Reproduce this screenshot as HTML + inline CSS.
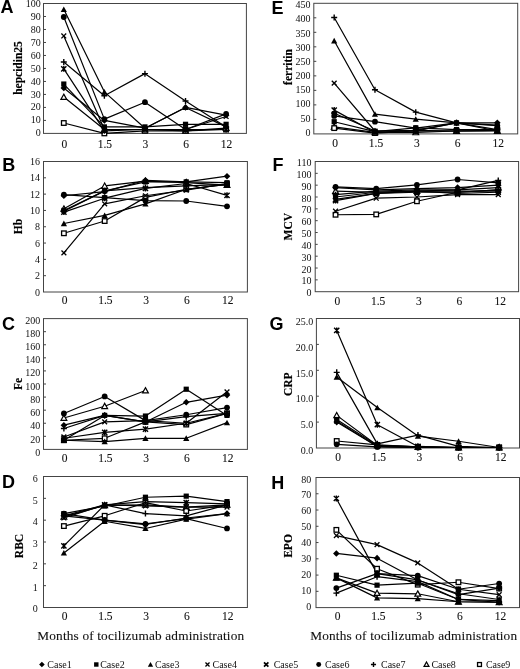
<!DOCTYPE html>
<html><head><meta charset="utf-8"><style>html,body{margin:0;padding:0;background:#fff;width:520px;height:669px;overflow:hidden}svg{display:block;filter:blur(0.3px)}</style></head>
<body><svg width="520" height="669" viewBox="0 0 520 669">
<style>
.let{font-family:"Liberation Sans",sans-serif;font-weight:bold;font-size:18px;fill:#000}
.tit{font-family:"Liberation Serif",serif;font-weight:bold;font-size:11.5px;fill:#000;stroke:#000;stroke-width:0.15px}
.yt{font-family:"Liberation Serif",serif;font-size:10px;fill:#111}
.xt{font-family:"Liberation Serif",serif;font-size:11.5px;fill:#111;stroke:#111;stroke-width:0.1px}
.mt{font-family:"Liberation Serif",serif;font-size:13.3px;letter-spacing:0.16px;fill:#111;stroke:#111;stroke-width:0.1px}
.lg{font-family:"Liberation Serif",serif;font-size:10px;fill:#111}
.box{fill:none;stroke:#444;stroke-width:1}
.ax{fill:none;stroke:#444;stroke-width:1}
.ln{fill:none;stroke:#000;stroke-width:1.2;stroke-linejoin:round}
</style>
<rect width="520" height="669" fill="#fff"/>
<text x="0.5" y="12.9" class="let">A</text>
<text transform="translate(22.0 68.0) rotate(-90)" class="tit" text-anchor="middle">hepcidin25</text>
<text x="40.8" y="136.30" class="yt" text-anchor="end">0</text>
<text x="40.8" y="123.37" class="yt" text-anchor="end">10</text>
<path d="M43.5 120.41H46.0" class="ax"/>
<text x="40.8" y="110.44" class="yt" text-anchor="end">20</text>
<path d="M43.5 107.42H46.0" class="ax"/>
<text x="40.8" y="97.51" class="yt" text-anchor="end">30</text>
<path d="M43.5 94.43H46.0" class="ax"/>
<text x="40.8" y="84.58" class="yt" text-anchor="end">40</text>
<path d="M43.5 81.44H46.0" class="ax"/>
<text x="40.8" y="71.65" class="yt" text-anchor="end">50</text>
<path d="M43.5 68.45H46.0" class="ax"/>
<text x="40.8" y="58.72" class="yt" text-anchor="end">60</text>
<path d="M43.5 55.46H46.0" class="ax"/>
<text x="40.8" y="45.79" class="yt" text-anchor="end">70</text>
<path d="M43.5 42.47H46.0" class="ax"/>
<text x="40.8" y="32.86" class="yt" text-anchor="end">80</text>
<path d="M43.5 29.48H46.0" class="ax"/>
<text x="40.8" y="19.93" class="yt" text-anchor="end">90</text>
<path d="M43.5 16.49H46.0" class="ax"/>
<text x="40.8" y="7.00" class="yt" text-anchor="end">100</text>
<text x="64.29" y="147.50" class="xt" text-anchor="middle">0</text>
<text x="104.87" y="147.50" class="xt" text-anchor="middle">1.5</text>
<text x="145.45" y="147.50" class="xt" text-anchor="middle">3</text>
<text x="186.03" y="147.50" class="xt" text-anchor="middle">6</text>
<text x="226.61" y="147.50" class="xt" text-anchor="middle">12</text>
<rect x="43.5" y="3.5" width="202.90" height="129.90" class="box"/>
<path d="M63.79 87.94 L104.37 120.41 L144.95 128.20 L185.53 107.42 L226.11 115.21" class="ln"/>
<path d="M63.79 84.04 L104.37 126.91 L144.95 126.91 L185.53 124.31 L226.11 124.31" class="ln"/>
<path d="M63.79 9.35 L104.37 91.83 L144.95 128.20 L185.53 107.42 L226.11 126.91" class="ln"/>
<path d="M63.79 35.98 L104.37 129.50 L144.95 129.50 L185.53 129.50 L226.11 116.51" class="ln"/>
<path d="M63.79 68.84 L104.37 130.80 L144.95 129.50 L185.53 129.50 L226.11 129.50" class="ln"/>
<path d="M63.79 17.01 L104.37 119.11 L144.95 102.22 L185.53 129.50 L226.11 113.92" class="ln"/>
<path d="M63.79 61.96 L104.37 95.73 L144.95 73.65 L185.53 100.93 L226.11 126.91" class="ln"/>
<path d="M63.79 97.03 L104.37 129.50 L144.95 129.50 L185.53 130.80 L226.11 128.20" class="ln"/>
<path d="M63.79 123.01 L104.37 133.40 L144.95 130.80 L185.53 130.80 L226.11 129.50" class="ln"/>
<path d="M63.79 94.13L66.69 99.35L60.89 99.35Z" fill="#fff" stroke="#000" stroke-width="1.2"/>
<path d="M104.37 126.6L107.27000000000001 131.82L101.47 131.82Z" fill="#fff" stroke="#000" stroke-width="1.2"/>
<path d="M144.95 126.6L147.85 131.82L142.04999999999998 131.82Z" fill="#fff" stroke="#000" stroke-width="1.2"/>
<path d="M185.53 127.9L188.43 133.12L182.63 133.12Z" fill="#fff" stroke="#000" stroke-width="1.2"/>
<path d="M226.11 125.29999999999998L229.01000000000002 130.51999999999998L223.21 130.51999999999998Z" fill="#fff" stroke="#000" stroke-width="1.2"/>
<rect x="61.49" y="120.71000000000001" width="4.6" height="4.6" fill="#fff" stroke="#000" stroke-width="1.3"/>
<rect x="102.07000000000001" y="131.1" width="4.6" height="4.6" fill="#fff" stroke="#000" stroke-width="1.3"/>
<rect x="142.64999999999998" y="128.5" width="4.6" height="4.6" fill="#fff" stroke="#000" stroke-width="1.3"/>
<rect x="183.23" y="128.5" width="4.6" height="4.6" fill="#fff" stroke="#000" stroke-width="1.3"/>
<rect x="223.81" y="127.2" width="4.6" height="4.6" fill="#fff" stroke="#000" stroke-width="1.3"/>
<path d="M63.79 84.64L67.09 87.94L63.79 91.24L60.49 87.94Z" fill="#000"/>
<path d="M104.37 117.11L107.67 120.41L104.37 123.71L101.07000000000001 120.41Z" fill="#000"/>
<path d="M144.95 124.89999999999999L148.25 128.2L144.95 131.5L141.64999999999998 128.2Z" fill="#000"/>
<path d="M185.53 104.12L188.83 107.42L185.53 110.72L182.23 107.42Z" fill="#000"/>
<path d="M226.11 111.91L229.41000000000003 115.21L226.11 118.50999999999999L222.81 115.21Z" fill="#000"/>
<rect x="61.19" y="81.44000000000001" width="5.2" height="5.2" fill="#000"/>
<rect x="101.77000000000001" y="124.31" width="5.2" height="5.2" fill="#000"/>
<rect x="142.35" y="124.31" width="5.2" height="5.2" fill="#000"/>
<rect x="182.93" y="121.71000000000001" width="5.2" height="5.2" fill="#000"/>
<rect x="223.51000000000002" y="121.71000000000001" width="5.2" height="5.2" fill="#000"/>
<path d="M63.79 6.404999999999999L66.89 11.985L60.69 11.985Z" fill="#000"/>
<path d="M104.37 88.885L107.47 94.465L101.27000000000001 94.465Z" fill="#000"/>
<path d="M144.95 125.255L148.04999999999998 130.83499999999998L141.85 130.83499999999998Z" fill="#000"/>
<path d="M185.53 104.47500000000001L188.63 110.055L182.43 110.055Z" fill="#000"/>
<path d="M226.11 123.965L229.21 129.545L223.01000000000002 129.545Z" fill="#000"/>
<path d="M61.39 33.58L66.19 38.379999999999995M66.19 33.58L61.39 38.379999999999995" stroke="#000" stroke-width="1.3" fill="none"/>
<path d="M101.97 127.1L106.77000000000001 131.9M106.77000000000001 127.1L101.97 131.9" stroke="#000" stroke-width="1.3" fill="none"/>
<path d="M142.54999999999998 127.1L147.35 131.9M147.35 127.1L142.54999999999998 131.9" stroke="#000" stroke-width="1.3" fill="none"/>
<path d="M183.13 127.1L187.93 131.9M187.93 127.1L183.13 131.9" stroke="#000" stroke-width="1.3" fill="none"/>
<path d="M223.71 114.11L228.51000000000002 118.91000000000001M228.51000000000002 114.11L223.71 118.91000000000001" stroke="#000" stroke-width="1.3" fill="none"/>
<path d="M61.19 66.24000000000001L66.39 71.44M66.39 66.24000000000001L61.19 71.44M63.79 65.84L63.79 71.84" stroke="#000" stroke-width="1.4" fill="none"/>
<path d="M101.77000000000001 128.20000000000002L106.97 133.4M106.97 128.20000000000002L101.77000000000001 133.4M104.37 127.80000000000001L104.37 133.8" stroke="#000" stroke-width="1.4" fill="none"/>
<path d="M142.35 126.9L147.54999999999998 132.1M147.54999999999998 126.9L142.35 132.1M144.95 126.5L144.95 132.5" stroke="#000" stroke-width="1.4" fill="none"/>
<path d="M182.93 126.9L188.13 132.1M188.13 126.9L182.93 132.1M185.53 126.5L185.53 132.5" stroke="#000" stroke-width="1.4" fill="none"/>
<path d="M223.51000000000002 126.9L228.71 132.1M228.71 126.9L223.51000000000002 132.1M226.11 126.5L226.11 132.5" stroke="#000" stroke-width="1.4" fill="none"/>
<circle cx="63.79" cy="17.01" r="2.9" fill="#000"/>
<circle cx="104.37" cy="119.11" r="2.9" fill="#000"/>
<circle cx="144.95" cy="102.22" r="2.9" fill="#000"/>
<circle cx="185.53" cy="129.5" r="2.9" fill="#000"/>
<circle cx="226.11" cy="113.92" r="2.9" fill="#000"/>
<path d="M60.79 61.96L66.78999999999999 61.96M63.79 58.96L63.79 64.96000000000001" stroke="#000" stroke-width="1.4" fill="none"/>
<path d="M101.37 95.73L107.37 95.73M104.37 92.73L104.37 98.73" stroke="#000" stroke-width="1.4" fill="none"/>
<path d="M141.95 73.65L147.95 73.65M144.95 70.65L144.95 76.65" stroke="#000" stroke-width="1.4" fill="none"/>
<path d="M182.53 100.93L188.53 100.93M185.53 97.93L185.53 103.93" stroke="#000" stroke-width="1.4" fill="none"/>
<path d="M223.11 126.91L229.11 126.91M226.11 123.91L226.11 129.91" stroke="#000" stroke-width="1.4" fill="none"/>
<text x="2.2" y="171.1" class="let">B</text>
<text transform="translate(22.2 226.5) rotate(-90)" class="tit" text-anchor="middle">Hb</text>
<text x="40.0" y="295.60" class="yt" text-anchor="end">0</text>
<text x="40.0" y="279.29" class="yt" text-anchor="end">2</text>
<path d="M43.5 275.69H46.0" class="ax"/>
<text x="40.0" y="262.98" class="yt" text-anchor="end">4</text>
<path d="M43.5 259.38H46.0" class="ax"/>
<text x="40.0" y="246.66" class="yt" text-anchor="end">6</text>
<path d="M43.5 243.06H46.0" class="ax"/>
<text x="40.0" y="230.35" class="yt" text-anchor="end">8</text>
<path d="M43.5 226.75H46.0" class="ax"/>
<text x="40.0" y="214.04" class="yt" text-anchor="end">10</text>
<path d="M43.5 210.44H46.0" class="ax"/>
<text x="40.0" y="197.73" class="yt" text-anchor="end">12</text>
<path d="M43.5 194.12H46.0" class="ax"/>
<text x="40.0" y="181.41" class="yt" text-anchor="end">14</text>
<path d="M43.5 177.81H46.0" class="ax"/>
<text x="40.0" y="165.10" class="yt" text-anchor="end">16</text>
<text x="64.59" y="304.10" class="xt" text-anchor="middle">0</text>
<text x="105.37" y="304.10" class="xt" text-anchor="middle">1.5</text>
<text x="146.15" y="304.10" class="xt" text-anchor="middle">3</text>
<text x="186.93" y="304.10" class="xt" text-anchor="middle">6</text>
<text x="227.71" y="304.10" class="xt" text-anchor="middle">12</text>
<rect x="43.5" y="161.5" width="203.90" height="130.50" class="box"/>
<path d="M63.89 195.76 L104.67 191.68 L145.45 180.26 L186.23 181.89 L227.01 176.18" class="ln"/>
<path d="M63.89 210.44 L104.67 190.86 L145.45 181.89 L186.23 181.89 L227.01 182.71" class="ln"/>
<path d="M63.89 223.49 L104.67 215.33 L145.45 203.91 L186.23 189.23 L227.01 184.34" class="ln"/>
<path d="M63.89 252.85 L104.67 203.91 L145.45 195.76 L186.23 190.05 L227.01 183.52" class="ln"/>
<path d="M63.89 212.07 L104.67 198.20 L145.45 188.42 L186.23 183.52 L227.01 195.35" class="ln"/>
<path d="M63.89 194.53 L104.67 197.71 L145.45 200.65 L186.23 200.98 L227.01 206.36" class="ln"/>
<path d="M63.89 211.25 L104.67 190.86 L145.45 187.60 L186.23 185.97 L227.01 184.34" class="ln"/>
<path d="M63.89 208.81 L104.67 185.97 L145.45 181.07 L186.23 182.71 L227.01 185.15" class="ln"/>
<path d="M63.89 233.28 L104.67 221.04 L145.45 197.39 L186.23 189.23 L227.01 184.34" class="ln"/>
<path d="M63.89 205.91L66.79 211.13L60.99 211.13Z" fill="#fff" stroke="#000" stroke-width="1.2"/>
<path d="M104.67 183.07L107.57000000000001 188.29L101.77 188.29Z" fill="#fff" stroke="#000" stroke-width="1.2"/>
<path d="M145.45 178.17L148.35 183.39L142.54999999999998 183.39Z" fill="#fff" stroke="#000" stroke-width="1.2"/>
<path d="M186.23 179.81L189.13 185.03L183.32999999999998 185.03Z" fill="#fff" stroke="#000" stroke-width="1.2"/>
<path d="M227.01 182.25L229.91 187.47L224.10999999999999 187.47Z" fill="#fff" stroke="#000" stroke-width="1.2"/>
<rect x="61.59" y="230.98" width="4.6" height="4.6" fill="#fff" stroke="#000" stroke-width="1.3"/>
<rect x="102.37" y="218.73999999999998" width="4.6" height="4.6" fill="#fff" stroke="#000" stroke-width="1.3"/>
<rect x="143.14999999999998" y="195.08999999999997" width="4.6" height="4.6" fill="#fff" stroke="#000" stroke-width="1.3"/>
<rect x="183.92999999999998" y="186.92999999999998" width="4.6" height="4.6" fill="#fff" stroke="#000" stroke-width="1.3"/>
<rect x="224.70999999999998" y="182.04" width="4.6" height="4.6" fill="#fff" stroke="#000" stroke-width="1.3"/>
<path d="M63.89 192.45999999999998L67.19 195.76L63.89 199.06L60.59 195.76Z" fill="#000"/>
<path d="M104.67 188.38L107.97 191.68L104.67 194.98000000000002L101.37 191.68Z" fill="#000"/>
<path d="M145.45 176.95999999999998L148.75 180.26L145.45 183.56L142.14999999999998 180.26Z" fill="#000"/>
<path d="M186.23 178.58999999999997L189.53 181.89L186.23 185.19L182.92999999999998 181.89Z" fill="#000"/>
<path d="M227.01 172.88L230.31 176.18L227.01 179.48000000000002L223.70999999999998 176.18Z" fill="#000"/>
<rect x="61.29" y="207.84" width="5.2" height="5.2" fill="#000"/>
<rect x="102.07000000000001" y="188.26000000000002" width="5.2" height="5.2" fill="#000"/>
<rect x="142.85" y="179.29" width="5.2" height="5.2" fill="#000"/>
<rect x="183.63" y="179.29" width="5.2" height="5.2" fill="#000"/>
<rect x="224.41" y="180.11" width="5.2" height="5.2" fill="#000"/>
<path d="M63.89 220.54500000000002L66.99 226.125L60.79 226.125Z" fill="#000"/>
<path d="M104.67 212.38500000000002L107.77 217.965L101.57000000000001 217.965Z" fill="#000"/>
<path d="M145.45 200.965L148.54999999999998 206.545L142.35 206.545Z" fill="#000"/>
<path d="M186.23 186.285L189.32999999999998 191.86499999999998L183.13 191.86499999999998Z" fill="#000"/>
<path d="M227.01 181.395L230.10999999999999 186.975L223.91 186.975Z" fill="#000"/>
<path d="M61.49 250.45L66.29 255.25M66.29 250.45L61.49 255.25" stroke="#000" stroke-width="1.3" fill="none"/>
<path d="M102.27 201.51L107.07000000000001 206.31M107.07000000000001 201.51L102.27 206.31" stroke="#000" stroke-width="1.3" fill="none"/>
<path d="M143.04999999999998 193.35999999999999L147.85 198.16M147.85 193.35999999999999L143.04999999999998 198.16" stroke="#000" stroke-width="1.3" fill="none"/>
<path d="M183.82999999999998 187.65L188.63 192.45000000000002M188.63 187.65L183.82999999999998 192.45000000000002" stroke="#000" stroke-width="1.3" fill="none"/>
<path d="M224.60999999999999 181.12L229.41 185.92000000000002M229.41 181.12L224.60999999999999 185.92000000000002" stroke="#000" stroke-width="1.3" fill="none"/>
<path d="M61.29 209.47L66.49 214.67M66.49 209.47L61.29 214.67M63.89 209.07L63.89 215.07" stroke="#000" stroke-width="1.4" fill="none"/>
<path d="M102.07000000000001 195.6L107.27 200.79999999999998M107.27 195.6L102.07000000000001 200.79999999999998M104.67 195.2L104.67 201.2" stroke="#000" stroke-width="1.4" fill="none"/>
<path d="M142.85 185.82L148.04999999999998 191.01999999999998M148.04999999999998 185.82L142.85 191.01999999999998M145.45 185.42L145.45 191.42" stroke="#000" stroke-width="1.4" fill="none"/>
<path d="M183.63 180.92000000000002L188.82999999999998 186.12M188.82999999999998 180.92000000000002L183.63 186.12M186.23 180.52L186.23 186.52" stroke="#000" stroke-width="1.4" fill="none"/>
<path d="M224.41 192.75L229.60999999999999 197.95M229.60999999999999 192.75L224.41 197.95M227.01 192.35L227.01 198.35" stroke="#000" stroke-width="1.4" fill="none"/>
<circle cx="63.89" cy="194.53" r="2.9" fill="#000"/>
<circle cx="104.67" cy="197.71" r="2.9" fill="#000"/>
<circle cx="145.45" cy="200.65" r="2.9" fill="#000"/>
<circle cx="186.23" cy="200.98" r="2.9" fill="#000"/>
<circle cx="227.01" cy="206.36" r="2.9" fill="#000"/>
<path d="M60.89 211.25L66.89 211.25M63.89 208.25L63.89 214.25" stroke="#000" stroke-width="1.4" fill="none"/>
<path d="M101.67 190.86L107.67 190.86M104.67 187.86L104.67 193.86" stroke="#000" stroke-width="1.4" fill="none"/>
<path d="M142.45 187.6L148.45 187.6M145.45 184.6L145.45 190.6" stroke="#000" stroke-width="1.4" fill="none"/>
<path d="M183.23 185.97L189.23 185.97M186.23 182.97L186.23 188.97" stroke="#000" stroke-width="1.4" fill="none"/>
<path d="M224.01 184.34L230.01 184.34M227.01 181.34L227.01 187.34" stroke="#000" stroke-width="1.4" fill="none"/>
<text x="2.0" y="330.0" class="let">C</text>
<text transform="translate(22.2 384) rotate(-90)" class="tit" text-anchor="middle">Fe</text>
<text x="40.199999999999996" y="455.90" class="yt" text-anchor="end">0</text>
<text x="40.199999999999996" y="442.66" class="yt" text-anchor="end">20</text>
<path d="M43.5 436.32H46.0" class="ax"/>
<text x="40.199999999999996" y="429.42" class="yt" text-anchor="end">40</text>
<path d="M43.5 423.24H46.0" class="ax"/>
<text x="40.199999999999996" y="416.18" class="yt" text-anchor="end">60</text>
<path d="M43.5 410.16H46.0" class="ax"/>
<text x="40.199999999999996" y="402.94" class="yt" text-anchor="end">80</text>
<path d="M43.5 397.08H46.0" class="ax"/>
<text x="40.199999999999996" y="389.70" class="yt" text-anchor="end">100</text>
<path d="M43.5 384.00H46.0" class="ax"/>
<text x="40.199999999999996" y="376.46" class="yt" text-anchor="end">120</text>
<path d="M43.5 370.92H46.0" class="ax"/>
<text x="40.199999999999996" y="363.22" class="yt" text-anchor="end">140</text>
<path d="M43.5 357.84H46.0" class="ax"/>
<text x="40.199999999999996" y="349.98" class="yt" text-anchor="end">160</text>
<path d="M43.5 344.76H46.0" class="ax"/>
<text x="40.199999999999996" y="336.74" class="yt" text-anchor="end">180</text>
<path d="M43.5 331.68H46.0" class="ax"/>
<text x="40.199999999999996" y="323.50" class="yt" text-anchor="end">200</text>
<text x="64.59" y="461.70" class="xt" text-anchor="middle">0</text>
<text x="105.37" y="461.70" class="xt" text-anchor="middle">1.5</text>
<text x="146.15" y="461.70" class="xt" text-anchor="middle">3</text>
<text x="186.93" y="461.70" class="xt" text-anchor="middle">6</text>
<text x="227.71" y="461.70" class="xt" text-anchor="middle">12</text>
<rect x="43.5" y="318.6" width="203.90" height="130.80" class="box"/>
<path d="M63.89 425.20 L104.67 415.39 L145.45 421.93 L186.23 402.31 L227.01 395.12" class="ln"/>
<path d="M63.89 440.24 L104.67 415.39 L145.45 416.05 L186.23 389.23 L227.01 415.39" class="ln"/>
<path d="M63.89 440.24 L104.67 441.55 L145.45 438.28 L186.23 438.28 L227.01 422.59" class="ln"/>
<path d="M63.89 436.97 L104.67 421.93 L145.45 420.62 L186.23 423.24 L227.01 391.85" class="ln"/>
<path d="M63.89 438.28 L104.67 432.40 L145.45 429.13 L186.23 423.24 L227.01 413.43" class="ln"/>
<path d="M63.89 413.43 L104.67 396.43 L145.45 420.62 L186.23 414.74 L227.01 407.54" class="ln"/>
<path d="M63.89 428.47 L104.67 415.39 L145.45 421.93 L186.23 416.70 L227.01 413.43" class="ln"/>
<path d="M63.89 418.01 L104.67 406.24 L145.45 390.54" class="ln"/>
<path d="M63.89 440.24 L104.67 438.28 L145.45 421.93 L186.23 424.55 L227.01 413.43" class="ln"/>
<path d="M63.89 415.11L66.79 420.33L60.99 420.33Z" fill="#fff" stroke="#000" stroke-width="1.2"/>
<path d="M104.67 403.34000000000003L107.57000000000001 408.56L101.77 408.56Z" fill="#fff" stroke="#000" stroke-width="1.2"/>
<path d="M145.45 387.64000000000004L148.35 392.86L142.54999999999998 392.86Z" fill="#fff" stroke="#000" stroke-width="1.2"/>
<rect x="61.59" y="437.94" width="4.6" height="4.6" fill="#fff" stroke="#000" stroke-width="1.3"/>
<rect x="102.37" y="435.97999999999996" width="4.6" height="4.6" fill="#fff" stroke="#000" stroke-width="1.3"/>
<rect x="143.14999999999998" y="419.63" width="4.6" height="4.6" fill="#fff" stroke="#000" stroke-width="1.3"/>
<rect x="183.92999999999998" y="422.25" width="4.6" height="4.6" fill="#fff" stroke="#000" stroke-width="1.3"/>
<rect x="224.70999999999998" y="411.13" width="4.6" height="4.6" fill="#fff" stroke="#000" stroke-width="1.3"/>
<path d="M63.89 421.9L67.19 425.2L63.89 428.5L60.59 425.2Z" fill="#000"/>
<path d="M104.67 412.09L107.97 415.39L104.67 418.69L101.37 415.39Z" fill="#000"/>
<path d="M145.45 418.63L148.75 421.93L145.45 425.23L142.14999999999998 421.93Z" fill="#000"/>
<path d="M186.23 399.01L189.53 402.31L186.23 405.61L182.92999999999998 402.31Z" fill="#000"/>
<path d="M227.01 391.82L230.31 395.12L227.01 398.42L223.70999999999998 395.12Z" fill="#000"/>
<rect x="61.29" y="437.64" width="5.2" height="5.2" fill="#000"/>
<rect x="102.07000000000001" y="412.78999999999996" width="5.2" height="5.2" fill="#000"/>
<rect x="142.85" y="413.45" width="5.2" height="5.2" fill="#000"/>
<rect x="183.63" y="386.63" width="5.2" height="5.2" fill="#000"/>
<rect x="224.41" y="412.78999999999996" width="5.2" height="5.2" fill="#000"/>
<path d="M63.89 437.295L66.99 442.875L60.79 442.875Z" fill="#000"/>
<path d="M104.67 438.605L107.77 444.185L101.57000000000001 444.185Z" fill="#000"/>
<path d="M145.45 435.335L148.54999999999998 440.91499999999996L142.35 440.91499999999996Z" fill="#000"/>
<path d="M186.23 435.335L189.32999999999998 440.91499999999996L183.13 440.91499999999996Z" fill="#000"/>
<path d="M227.01 419.645L230.10999999999999 425.22499999999997L223.91 425.22499999999997Z" fill="#000"/>
<path d="M61.49 434.57000000000005L66.29 439.37M66.29 434.57000000000005L61.49 439.37" stroke="#000" stroke-width="1.3" fill="none"/>
<path d="M102.27 419.53000000000003L107.07000000000001 424.33M107.07000000000001 419.53000000000003L102.27 424.33" stroke="#000" stroke-width="1.3" fill="none"/>
<path d="M143.04999999999998 418.22L147.85 423.02M147.85 418.22L143.04999999999998 423.02" stroke="#000" stroke-width="1.3" fill="none"/>
<path d="M183.82999999999998 420.84000000000003L188.63 425.64M188.63 420.84000000000003L183.82999999999998 425.64" stroke="#000" stroke-width="1.3" fill="none"/>
<path d="M224.60999999999999 389.45000000000005L229.41 394.25M229.41 389.45000000000005L224.60999999999999 394.25" stroke="#000" stroke-width="1.3" fill="none"/>
<path d="M61.29 435.67999999999995L66.49 440.88M66.49 435.67999999999995L61.29 440.88M63.89 435.28L63.89 441.28" stroke="#000" stroke-width="1.4" fill="none"/>
<path d="M102.07000000000001 429.79999999999995L107.27 435.0M107.27 429.79999999999995L102.07000000000001 435.0M104.67 429.4L104.67 435.4" stroke="#000" stroke-width="1.4" fill="none"/>
<path d="M142.85 426.53L148.04999999999998 431.73M148.04999999999998 426.53L142.85 431.73M145.45 426.13L145.45 432.13" stroke="#000" stroke-width="1.4" fill="none"/>
<path d="M183.63 420.64L188.82999999999998 425.84000000000003M188.82999999999998 420.64L183.63 425.84000000000003M186.23 420.24L186.23 426.24" stroke="#000" stroke-width="1.4" fill="none"/>
<path d="M224.41 410.83L229.60999999999999 416.03000000000003M229.60999999999999 410.83L224.41 416.03000000000003M227.01 410.43L227.01 416.43" stroke="#000" stroke-width="1.4" fill="none"/>
<circle cx="63.89" cy="413.43" r="2.9" fill="#000"/>
<circle cx="104.67" cy="396.43" r="2.9" fill="#000"/>
<circle cx="145.45" cy="420.62" r="2.9" fill="#000"/>
<circle cx="186.23" cy="414.74" r="2.9" fill="#000"/>
<circle cx="227.01" cy="407.54" r="2.9" fill="#000"/>
<path d="M60.89 428.47L66.89 428.47M63.89 425.47L63.89 431.47" stroke="#000" stroke-width="1.4" fill="none"/>
<path d="M101.67 415.39L107.67 415.39M104.67 412.39L104.67 418.39" stroke="#000" stroke-width="1.4" fill="none"/>
<path d="M142.45 421.93L148.45 421.93M145.45 418.93L145.45 424.93" stroke="#000" stroke-width="1.4" fill="none"/>
<path d="M183.23 416.7L189.23 416.7M186.23 413.7L186.23 419.7" stroke="#000" stroke-width="1.4" fill="none"/>
<path d="M224.01 413.43L230.01 413.43M227.01 410.43L227.01 416.43" stroke="#000" stroke-width="1.4" fill="none"/>
<text x="2.0" y="488.2" class="let">D</text>
<text transform="translate(22.7 546) rotate(-90)" class="tit" text-anchor="middle">RBC</text>
<text x="37.8" y="612.40" class="yt" text-anchor="end">0</text>
<text x="37.8" y="590.65" class="yt" text-anchor="end">1</text>
<path d="M43.5 585.67H46.0" class="ax"/>
<text x="37.8" y="568.90" class="yt" text-anchor="end">2</text>
<path d="M43.5 563.83H46.0" class="ax"/>
<text x="37.8" y="547.15" class="yt" text-anchor="end">3</text>
<path d="M43.5 542.00H46.0" class="ax"/>
<text x="37.8" y="525.40" class="yt" text-anchor="end">4</text>
<path d="M43.5 520.17H46.0" class="ax"/>
<text x="37.8" y="503.65" class="yt" text-anchor="end">5</text>
<path d="M43.5 498.33H46.0" class="ax"/>
<text x="37.8" y="481.90" class="yt" text-anchor="end">6</text>
<text x="64.59" y="619.70" class="xt" text-anchor="middle">0</text>
<text x="105.37" y="619.70" class="xt" text-anchor="middle">1.5</text>
<text x="146.15" y="619.70" class="xt" text-anchor="middle">3</text>
<text x="186.93" y="619.70" class="xt" text-anchor="middle">6</text>
<text x="227.71" y="619.70" class="xt" text-anchor="middle">12</text>
<rect x="43.5" y="476.5" width="203.90" height="131.00" class="box"/>
<path d="M63.89 515.80 L104.67 520.17 L145.45 524.53 L186.23 517.98 L227.01 513.62" class="ln"/>
<path d="M63.89 513.62 L104.67 505.97 L145.45 497.24 L186.23 496.15 L227.01 501.61" class="ln"/>
<path d="M63.89 552.92 L104.67 521.26 L145.45 528.46 L186.23 519.08 L227.01 513.62" class="ln"/>
<path d="M63.89 517.98 L104.67 504.88 L145.45 505.97 L186.23 507.07 L227.01 507.07" class="ln"/>
<path d="M63.89 545.93 L104.67 504.88 L145.45 501.61 L186.23 502.70 L227.01 503.79" class="ln"/>
<path d="M63.89 513.62 L104.67 520.17 L145.45 523.88 L186.23 518.64 L227.01 528.46" class="ln"/>
<path d="M63.89 515.80 L104.67 504.88 L145.45 513.62 L186.23 515.80 L227.01 504.88" class="ln"/>
<path d="M63.89 516.89 L104.67 505.32 L145.45 504.88 L186.23 507.07 L227.01 504.88" class="ln"/>
<path d="M63.89 526.06 L104.67 515.80 L145.45 502.70 L186.23 511.00 L227.01 504.88" class="ln"/>
<path d="M63.89 513.99L66.79 519.21L60.99 519.21Z" fill="#fff" stroke="#000" stroke-width="1.2"/>
<path d="M104.67 502.42L107.57000000000001 507.64L101.77 507.64Z" fill="#fff" stroke="#000" stroke-width="1.2"/>
<path d="M145.45 501.98L148.35 507.2L142.54999999999998 507.2Z" fill="#fff" stroke="#000" stroke-width="1.2"/>
<path d="M186.23 504.17L189.13 509.39L183.32999999999998 509.39Z" fill="#fff" stroke="#000" stroke-width="1.2"/>
<path d="M227.01 501.98L229.91 507.2L224.10999999999999 507.2Z" fill="#fff" stroke="#000" stroke-width="1.2"/>
<rect x="61.59" y="523.76" width="4.6" height="4.6" fill="#fff" stroke="#000" stroke-width="1.3"/>
<rect x="102.37" y="513.5" width="4.6" height="4.6" fill="#fff" stroke="#000" stroke-width="1.3"/>
<rect x="143.14999999999998" y="500.4" width="4.6" height="4.6" fill="#fff" stroke="#000" stroke-width="1.3"/>
<rect x="183.92999999999998" y="508.7" width="4.6" height="4.6" fill="#fff" stroke="#000" stroke-width="1.3"/>
<rect x="224.70999999999998" y="502.58" width="4.6" height="4.6" fill="#fff" stroke="#000" stroke-width="1.3"/>
<path d="M63.89 512.5L67.19 515.8L63.89 519.0999999999999L60.59 515.8Z" fill="#000"/>
<path d="M104.67 516.87L107.97 520.17L104.67 523.4699999999999L101.37 520.17Z" fill="#000"/>
<path d="M145.45 521.23L148.75 524.53L145.45 527.8299999999999L142.14999999999998 524.53Z" fill="#000"/>
<path d="M186.23 514.6800000000001L189.53 517.98L186.23 521.28L182.92999999999998 517.98Z" fill="#000"/>
<path d="M227.01 510.32L230.31 513.62L227.01 516.92L223.70999999999998 513.62Z" fill="#000"/>
<rect x="61.29" y="511.02" width="5.2" height="5.2" fill="#000"/>
<rect x="102.07000000000001" y="503.37" width="5.2" height="5.2" fill="#000"/>
<rect x="142.85" y="494.64" width="5.2" height="5.2" fill="#000"/>
<rect x="183.63" y="493.54999999999995" width="5.2" height="5.2" fill="#000"/>
<rect x="224.41" y="499.01" width="5.2" height="5.2" fill="#000"/>
<path d="M63.89 549.9749999999999L66.99 555.555L60.79 555.555Z" fill="#000"/>
<path d="M104.67 518.3149999999999L107.77 523.895L101.57000000000001 523.895Z" fill="#000"/>
<path d="M145.45 525.515L148.54999999999998 531.095L142.35 531.095Z" fill="#000"/>
<path d="M186.23 516.135L189.32999999999998 521.715L183.13 521.715Z" fill="#000"/>
<path d="M227.01 510.675L230.10999999999999 516.255L223.91 516.255Z" fill="#000"/>
<path d="M61.49 515.58L66.29 520.38M66.29 515.58L61.49 520.38" stroke="#000" stroke-width="1.3" fill="none"/>
<path d="M102.27 502.48L107.07000000000001 507.28M107.07000000000001 502.48L102.27 507.28" stroke="#000" stroke-width="1.3" fill="none"/>
<path d="M143.04999999999998 503.57000000000005L147.85 508.37M147.85 503.57000000000005L143.04999999999998 508.37" stroke="#000" stroke-width="1.3" fill="none"/>
<path d="M183.82999999999998 504.67L188.63 509.46999999999997M188.63 504.67L183.82999999999998 509.46999999999997" stroke="#000" stroke-width="1.3" fill="none"/>
<path d="M224.60999999999999 504.67L229.41 509.46999999999997M229.41 504.67L224.60999999999999 509.46999999999997" stroke="#000" stroke-width="1.3" fill="none"/>
<path d="M61.29 543.3299999999999L66.49 548.53M66.49 543.3299999999999L61.29 548.53M63.89 542.93L63.89 548.93" stroke="#000" stroke-width="1.4" fill="none"/>
<path d="M102.07000000000001 502.28L107.27 507.48M107.27 502.28L102.07000000000001 507.48M104.67 501.88L104.67 507.88" stroke="#000" stroke-width="1.4" fill="none"/>
<path d="M142.85 499.01L148.04999999999998 504.21000000000004M148.04999999999998 499.01L142.85 504.21000000000004M145.45 498.61L145.45 504.61" stroke="#000" stroke-width="1.4" fill="none"/>
<path d="M183.63 500.09999999999997L188.82999999999998 505.3M188.82999999999998 500.09999999999997L183.63 505.3M186.23 499.7L186.23 505.7" stroke="#000" stroke-width="1.4" fill="none"/>
<path d="M224.41 501.19L229.60999999999999 506.39000000000004M229.60999999999999 501.19L224.41 506.39000000000004M227.01 500.79L227.01 506.79" stroke="#000" stroke-width="1.4" fill="none"/>
<circle cx="63.89" cy="513.62" r="2.9" fill="#000"/>
<circle cx="104.67" cy="520.17" r="2.9" fill="#000"/>
<circle cx="145.45" cy="523.88" r="2.9" fill="#000"/>
<circle cx="186.23" cy="518.64" r="2.9" fill="#000"/>
<circle cx="227.01" cy="528.46" r="2.9" fill="#000"/>
<path d="M60.89 515.8L66.89 515.8M63.89 512.8L63.89 518.8" stroke="#000" stroke-width="1.4" fill="none"/>
<path d="M101.67 504.88L107.67 504.88M104.67 501.88L104.67 507.88" stroke="#000" stroke-width="1.4" fill="none"/>
<path d="M142.45 513.62L148.45 513.62M145.45 510.62L145.45 516.62" stroke="#000" stroke-width="1.4" fill="none"/>
<path d="M183.23 515.8L189.23 515.8M186.23 512.8L186.23 518.8" stroke="#000" stroke-width="1.4" fill="none"/>
<path d="M224.01 504.88L230.01 504.88M227.01 501.88L227.01 507.88" stroke="#000" stroke-width="1.4" fill="none"/>
<text x="271.5" y="13.6" class="let">E</text>
<text transform="translate(291.5 67) rotate(-90)" class="tit" text-anchor="middle">ferritin</text>
<text x="310.6" y="135.80" class="yt" text-anchor="end">0</text>
<text x="310.6" y="121.63" class="yt" text-anchor="end">50</text>
<path d="M313.8 119.39H316.3" class="ax"/>
<text x="310.6" y="107.47" class="yt" text-anchor="end">100</text>
<path d="M313.8 104.88H316.3" class="ax"/>
<text x="310.6" y="93.30" class="yt" text-anchor="end">150</text>
<path d="M313.8 90.37H316.3" class="ax"/>
<text x="310.6" y="79.13" class="yt" text-anchor="end">200</text>
<path d="M313.8 75.86H316.3" class="ax"/>
<text x="310.6" y="64.97" class="yt" text-anchor="end">250</text>
<path d="M313.8 61.34H316.3" class="ax"/>
<text x="310.6" y="50.80" class="yt" text-anchor="end">300</text>
<path d="M313.8 46.83H316.3" class="ax"/>
<text x="310.6" y="36.63" class="yt" text-anchor="end">350</text>
<path d="M313.8 32.32H316.3" class="ax"/>
<text x="310.6" y="22.47" class="yt" text-anchor="end">400</text>
<path d="M313.8 17.81H316.3" class="ax"/>
<text x="310.6" y="8.30" class="yt" text-anchor="end">450</text>
<text x="335.19" y="147.30" class="xt" text-anchor="middle">0</text>
<text x="375.97" y="147.30" class="xt" text-anchor="middle">1.5</text>
<text x="416.75" y="147.30" class="xt" text-anchor="middle">3</text>
<text x="457.53" y="147.30" class="xt" text-anchor="middle">6</text>
<text x="498.31" y="147.30" class="xt" text-anchor="middle">12</text>
<rect x="313.8" y="3.3" width="203.90" height="130.60" class="box"/>
<path d="M334.19 113.29 L374.97 131.00 L415.75 130.42 L456.53 122.87 L497.31 122.87" class="ln"/>
<path d="M334.19 121.71 L374.97 131.58 L415.75 127.81 L456.53 129.55 L497.31 129.55" class="ln"/>
<path d="M334.19 40.74 L374.97 114.16 L415.75 119.10 L456.53 122.87 L497.31 125.19" class="ln"/>
<path d="M334.19 83.11 L374.97 131.00 L415.75 131.00 L456.53 122.87 L497.31 131.00" class="ln"/>
<path d="M334.19 110.10 L374.97 132.45 L415.75 130.42 L456.53 131.00 L497.31 130.42" class="ln"/>
<path d="M334.19 115.91 L374.97 121.71 L415.75 128.10 L456.53 122.87 L497.31 125.77" class="ln"/>
<path d="M334.19 17.52 L374.97 89.79 L415.75 112.13 L456.53 122.87 L497.31 129.55" class="ln"/>
<path d="M334.19 126.93 L374.97 132.45 L415.75 132.45 L456.53 131.00 L497.31 131.00" class="ln"/>
<path d="M334.19 128.10 L374.97 133.03 L415.75 131.00 L456.53 131.00 L497.31 130.42" class="ln"/>
<path d="M334.19 124.03L337.09 129.25L331.29 129.25Z" fill="#fff" stroke="#000" stroke-width="1.2"/>
<path d="M374.97 129.54999999999998L377.87 134.76999999999998L372.07000000000005 134.76999999999998Z" fill="#fff" stroke="#000" stroke-width="1.2"/>
<path d="M415.75 129.54999999999998L418.65 134.76999999999998L412.85 134.76999999999998Z" fill="#fff" stroke="#000" stroke-width="1.2"/>
<path d="M456.53 128.1L459.42999999999995 133.32L453.63 133.32Z" fill="#fff" stroke="#000" stroke-width="1.2"/>
<path d="M497.31 128.1L500.21 133.32L494.41 133.32Z" fill="#fff" stroke="#000" stroke-width="1.2"/>
<rect x="331.89" y="125.8" width="4.6" height="4.6" fill="#fff" stroke="#000" stroke-width="1.3"/>
<rect x="372.67" y="130.73" width="4.6" height="4.6" fill="#fff" stroke="#000" stroke-width="1.3"/>
<rect x="413.45" y="128.7" width="4.6" height="4.6" fill="#fff" stroke="#000" stroke-width="1.3"/>
<rect x="454.22999999999996" y="128.7" width="4.6" height="4.6" fill="#fff" stroke="#000" stroke-width="1.3"/>
<rect x="495.01" y="128.11999999999998" width="4.6" height="4.6" fill="#fff" stroke="#000" stroke-width="1.3"/>
<path d="M334.19 109.99000000000001L337.49 113.29L334.19 116.59L330.89 113.29Z" fill="#000"/>
<path d="M374.97 127.7L378.27000000000004 131.0L374.97 134.3L371.67 131.0Z" fill="#000"/>
<path d="M415.75 127.11999999999999L419.05 130.42L415.75 133.72L412.45 130.42Z" fill="#000"/>
<path d="M456.53 119.57000000000001L459.83 122.87L456.53 126.17L453.22999999999996 122.87Z" fill="#000"/>
<path d="M497.31 119.57000000000001L500.61 122.87L497.31 126.17L494.01 122.87Z" fill="#000"/>
<rect x="331.59" y="119.11" width="5.2" height="5.2" fill="#000"/>
<rect x="372.37" y="128.98000000000002" width="5.2" height="5.2" fill="#000"/>
<rect x="413.15" y="125.21000000000001" width="5.2" height="5.2" fill="#000"/>
<rect x="453.92999999999995" y="126.95000000000002" width="5.2" height="5.2" fill="#000"/>
<rect x="494.71" y="126.95000000000002" width="5.2" height="5.2" fill="#000"/>
<path d="M334.19 37.795L337.29 43.375L331.09 43.375Z" fill="#000"/>
<path d="M374.97 111.215L378.07000000000005 116.795L371.87 116.795Z" fill="#000"/>
<path d="M415.75 116.155L418.85 121.735L412.65 121.735Z" fill="#000"/>
<path d="M456.53 119.92500000000001L459.63 125.50500000000001L453.42999999999995 125.50500000000001Z" fill="#000"/>
<path d="M497.31 122.245L500.41 127.825L494.21 127.825Z" fill="#000"/>
<path d="M331.79 80.71L336.59 85.51M336.59 80.71L331.79 85.51" stroke="#000" stroke-width="1.3" fill="none"/>
<path d="M372.57000000000005 128.6L377.37 133.4M377.37 128.6L372.57000000000005 133.4" stroke="#000" stroke-width="1.3" fill="none"/>
<path d="M413.35 128.6L418.15 133.4M418.15 128.6L413.35 133.4" stroke="#000" stroke-width="1.3" fill="none"/>
<path d="M454.13 120.47L458.92999999999995 125.27000000000001M458.92999999999995 120.47L454.13 125.27000000000001" stroke="#000" stroke-width="1.3" fill="none"/>
<path d="M494.91 128.6L499.71 133.4M499.71 128.6L494.91 133.4" stroke="#000" stroke-width="1.3" fill="none"/>
<path d="M331.59 107.5L336.79 112.69999999999999M336.79 107.5L331.59 112.69999999999999M334.19 107.1L334.19 113.1" stroke="#000" stroke-width="1.4" fill="none"/>
<path d="M372.37 129.85L377.57000000000005 135.04999999999998M377.57000000000005 129.85L372.37 135.04999999999998M374.97 129.45L374.97 135.45" stroke="#000" stroke-width="1.4" fill="none"/>
<path d="M413.15 127.82L418.35 133.01999999999998M418.35 127.82L413.15 133.01999999999998M415.75 127.41999999999999L415.75 133.42" stroke="#000" stroke-width="1.4" fill="none"/>
<path d="M453.92999999999995 128.4L459.13 133.6M459.13 128.4L453.92999999999995 133.6M456.53 128.0L456.53 134.0" stroke="#000" stroke-width="1.4" fill="none"/>
<path d="M494.71 127.82L499.91 133.01999999999998M499.91 127.82L494.71 133.01999999999998M497.31 127.41999999999999L497.31 133.42" stroke="#000" stroke-width="1.4" fill="none"/>
<circle cx="334.19" cy="115.91" r="2.9" fill="#000"/>
<circle cx="374.97" cy="121.71" r="2.9" fill="#000"/>
<circle cx="415.75" cy="128.1" r="2.9" fill="#000"/>
<circle cx="456.53" cy="122.87" r="2.9" fill="#000"/>
<circle cx="497.31" cy="125.77" r="2.9" fill="#000"/>
<path d="M331.19 17.52L337.19 17.52M334.19 14.52L334.19 20.52" stroke="#000" stroke-width="1.4" fill="none"/>
<path d="M371.97 89.79L377.97 89.79M374.97 86.79L374.97 92.79" stroke="#000" stroke-width="1.4" fill="none"/>
<path d="M412.75 112.13L418.75 112.13M415.75 109.13L415.75 115.13" stroke="#000" stroke-width="1.4" fill="none"/>
<path d="M453.53 122.87L459.53 122.87M456.53 119.87L456.53 125.87" stroke="#000" stroke-width="1.4" fill="none"/>
<path d="M494.31 129.55L500.31 129.55M497.31 126.55000000000001L497.31 132.55" stroke="#000" stroke-width="1.4" fill="none"/>
<text x="272.5" y="171.4" class="let">F</text>
<text transform="translate(291.5 226.7) rotate(-90)" class="tit" text-anchor="middle">MCV</text>
<text x="311.40000000000003" y="296.30" class="yt" text-anchor="end">0</text>
<text x="311.40000000000003" y="284.46" class="yt" text-anchor="end">10</text>
<path d="M315.2 279.86H317.7" class="ax"/>
<text x="311.40000000000003" y="272.63" class="yt" text-anchor="end">20</text>
<path d="M315.2 268.03H317.7" class="ax"/>
<text x="311.40000000000003" y="260.79" class="yt" text-anchor="end">30</text>
<path d="M315.2 256.19H317.7" class="ax"/>
<text x="311.40000000000003" y="248.95" class="yt" text-anchor="end">40</text>
<path d="M315.2 244.35H317.7" class="ax"/>
<text x="311.40000000000003" y="237.12" class="yt" text-anchor="end">50</text>
<path d="M315.2 232.52H317.7" class="ax"/>
<text x="311.40000000000003" y="225.28" class="yt" text-anchor="end">60</text>
<path d="M315.2 220.68H317.7" class="ax"/>
<text x="311.40000000000003" y="213.45" class="yt" text-anchor="end">70</text>
<path d="M315.2 208.85H317.7" class="ax"/>
<text x="311.40000000000003" y="201.61" class="yt" text-anchor="end">80</text>
<path d="M315.2 197.01H317.7" class="ax"/>
<text x="311.40000000000003" y="189.77" class="yt" text-anchor="end">90</text>
<path d="M315.2 185.17H317.7" class="ax"/>
<text x="311.40000000000003" y="177.94" class="yt" text-anchor="end">100</text>
<path d="M315.2 173.34H317.7" class="ax"/>
<text x="311.40000000000003" y="166.10" class="yt" text-anchor="end">110</text>
<text x="337.44" y="304.50" class="xt" text-anchor="middle">0</text>
<text x="378.12" y="304.50" class="xt" text-anchor="middle">1.5</text>
<text x="418.80" y="304.50" class="xt" text-anchor="middle">3</text>
<text x="459.48" y="304.50" class="xt" text-anchor="middle">6</text>
<text x="500.16" y="304.50" class="xt" text-anchor="middle">12</text>
<rect x="315.2" y="161.5" width="203.40" height="130.20" class="box"/>
<path d="M335.54 187.54 L376.22 189.91 L416.90 188.72 L457.58 187.54 L498.26 185.17" class="ln"/>
<path d="M335.54 197.01 L376.22 192.27 L416.90 191.09 L457.58 191.09 L498.26 191.09" class="ln"/>
<path d="M335.54 199.38 L376.22 193.46 L416.90 192.27 L457.58 192.27 L498.26 189.91" class="ln"/>
<path d="M335.54 211.21 L376.22 198.19 L416.90 197.01 L457.58 194.64 L498.26 194.64" class="ln"/>
<path d="M335.54 200.56 L376.22 193.46 L416.90 191.09 L457.58 193.46 L498.26 192.27" class="ln"/>
<path d="M335.54 186.95 L376.22 188.72 L416.90 184.82 L457.58 179.49 L498.26 182.81" class="ln"/>
<path d="M335.54 194.64 L376.22 191.09 L416.90 189.91 L457.58 189.91 L498.26 180.44" class="ln"/>
<path d="M335.54 191.09 L376.22 192.27 L416.90 191.09 L457.58 189.91 L498.26 187.54" class="ln"/>
<path d="M335.54 214.76 L376.22 214.41 L416.90 201.27 L457.58 192.27 L498.26 189.91" class="ln"/>
<path d="M335.54 188.19L338.44 193.41L332.64000000000004 193.41Z" fill="#fff" stroke="#000" stroke-width="1.2"/>
<path d="M376.22 189.37L379.12 194.59L373.32000000000005 194.59Z" fill="#fff" stroke="#000" stroke-width="1.2"/>
<path d="M416.9 188.19L419.79999999999995 193.41L414.0 193.41Z" fill="#fff" stroke="#000" stroke-width="1.2"/>
<path d="M457.58 187.01L460.47999999999996 192.23L454.68 192.23Z" fill="#fff" stroke="#000" stroke-width="1.2"/>
<path d="M498.26 184.64L501.15999999999997 189.85999999999999L495.36 189.85999999999999Z" fill="#fff" stroke="#000" stroke-width="1.2"/>
<rect x="333.24" y="212.45999999999998" width="4.6" height="4.6" fill="#fff" stroke="#000" stroke-width="1.3"/>
<rect x="373.92" y="212.10999999999999" width="4.6" height="4.6" fill="#fff" stroke="#000" stroke-width="1.3"/>
<rect x="414.59999999999997" y="198.97" width="4.6" height="4.6" fill="#fff" stroke="#000" stroke-width="1.3"/>
<rect x="455.28" y="189.97" width="4.6" height="4.6" fill="#fff" stroke="#000" stroke-width="1.3"/>
<rect x="495.96" y="187.60999999999999" width="4.6" height="4.6" fill="#fff" stroke="#000" stroke-width="1.3"/>
<path d="M335.54 184.23999999999998L338.84000000000003 187.54L335.54 190.84L332.24 187.54Z" fill="#000"/>
<path d="M376.22 186.60999999999999L379.52000000000004 189.91L376.22 193.21L372.92 189.91Z" fill="#000"/>
<path d="M416.9 185.42L420.2 188.72L416.9 192.02L413.59999999999997 188.72Z" fill="#000"/>
<path d="M457.58 184.23999999999998L460.88 187.54L457.58 190.84L454.28 187.54Z" fill="#000"/>
<path d="M498.26 181.86999999999998L501.56 185.17L498.26 188.47L494.96 185.17Z" fill="#000"/>
<rect x="332.94" y="194.41" width="5.2" height="5.2" fill="#000"/>
<rect x="373.62" y="189.67000000000002" width="5.2" height="5.2" fill="#000"/>
<rect x="414.29999999999995" y="188.49" width="5.2" height="5.2" fill="#000"/>
<rect x="454.97999999999996" y="188.49" width="5.2" height="5.2" fill="#000"/>
<rect x="495.65999999999997" y="188.49" width="5.2" height="5.2" fill="#000"/>
<path d="M335.54 196.435L338.64000000000004 202.015L332.44 202.015Z" fill="#000"/>
<path d="M376.22 190.51500000000001L379.32000000000005 196.095L373.12 196.095Z" fill="#000"/>
<path d="M416.9 189.32500000000002L420.0 194.905L413.79999999999995 194.905Z" fill="#000"/>
<path d="M457.58 189.32500000000002L460.68 194.905L454.47999999999996 194.905Z" fill="#000"/>
<path d="M498.26 186.965L501.36 192.545L495.15999999999997 192.545Z" fill="#000"/>
<path d="M333.14000000000004 208.81L337.94 213.61M337.94 208.81L333.14000000000004 213.61" stroke="#000" stroke-width="1.3" fill="none"/>
<path d="M373.82000000000005 195.79L378.62 200.59M378.62 195.79L373.82000000000005 200.59" stroke="#000" stroke-width="1.3" fill="none"/>
<path d="M414.5 194.60999999999999L419.29999999999995 199.41M419.29999999999995 194.60999999999999L414.5 199.41" stroke="#000" stroke-width="1.3" fill="none"/>
<path d="M455.18 192.23999999999998L459.97999999999996 197.04M459.97999999999996 192.23999999999998L455.18 197.04" stroke="#000" stroke-width="1.3" fill="none"/>
<path d="M495.86 192.23999999999998L500.65999999999997 197.04M500.65999999999997 192.23999999999998L495.86 197.04" stroke="#000" stroke-width="1.3" fill="none"/>
<path d="M332.94 197.96L338.14000000000004 203.16M338.14000000000004 197.96L332.94 203.16M335.54 197.56L335.54 203.56" stroke="#000" stroke-width="1.4" fill="none"/>
<path d="M373.62 190.86L378.82000000000005 196.06M378.82000000000005 190.86L373.62 196.06M376.22 190.46L376.22 196.46" stroke="#000" stroke-width="1.4" fill="none"/>
<path d="M414.29999999999995 188.49L419.5 193.69M419.5 188.49L414.29999999999995 193.69M416.9 188.09L416.9 194.09" stroke="#000" stroke-width="1.4" fill="none"/>
<path d="M454.97999999999996 190.86L460.18 196.06M460.18 190.86L454.97999999999996 196.06M457.58 190.46L457.58 196.46" stroke="#000" stroke-width="1.4" fill="none"/>
<path d="M495.65999999999997 189.67000000000002L500.86 194.87M500.86 189.67000000000002L495.65999999999997 194.87M498.26 189.27L498.26 195.27" stroke="#000" stroke-width="1.4" fill="none"/>
<circle cx="335.54" cy="186.95" r="2.9" fill="#000"/>
<circle cx="376.22" cy="188.72" r="2.9" fill="#000"/>
<circle cx="416.9" cy="184.82" r="2.9" fill="#000"/>
<circle cx="457.58" cy="179.49" r="2.9" fill="#000"/>
<circle cx="498.26" cy="182.81" r="2.9" fill="#000"/>
<path d="M332.54 194.64L338.54 194.64M335.54 191.64L335.54 197.64" stroke="#000" stroke-width="1.4" fill="none"/>
<path d="M373.22 191.09L379.22 191.09M376.22 188.09L376.22 194.09" stroke="#000" stroke-width="1.4" fill="none"/>
<path d="M413.9 189.91L419.9 189.91M416.9 186.91L416.9 192.91" stroke="#000" stroke-width="1.4" fill="none"/>
<path d="M454.58 189.91L460.58 189.91M457.58 186.91L457.58 192.91" stroke="#000" stroke-width="1.4" fill="none"/>
<path d="M495.26 180.44L501.26 180.44M498.26 177.44L498.26 183.44" stroke="#000" stroke-width="1.4" fill="none"/>
<text x="269.4" y="330.0" class="let">G</text>
<text transform="translate(291.8 384.3) rotate(-90)" class="tit" text-anchor="middle">CRP</text>
<text x="313.3" y="453.90" class="yt" text-anchor="end">0.0</text>
<text x="313.3" y="428.12" class="yt" text-anchor="end">5.0</text>
<path d="M316.4 422.10H318.9" class="ax"/>
<text x="313.3" y="402.34" class="yt" text-anchor="end">10.0</text>
<path d="M316.4 396.20H318.9" class="ax"/>
<text x="313.3" y="376.56" class="yt" text-anchor="end">15.0</text>
<path d="M316.4 370.30H318.9" class="ax"/>
<text x="313.3" y="350.78" class="yt" text-anchor="end">20.0</text>
<path d="M316.4 344.40H318.9" class="ax"/>
<text x="313.3" y="325.00" class="yt" text-anchor="end">25.0</text>
<text x="338.21" y="461.30" class="xt" text-anchor="middle">0</text>
<text x="378.83" y="461.30" class="xt" text-anchor="middle">1.5</text>
<text x="419.45" y="461.30" class="xt" text-anchor="middle">3</text>
<text x="460.07" y="461.30" class="xt" text-anchor="middle">6</text>
<text x="500.69" y="461.30" class="xt" text-anchor="middle">12</text>
<rect x="316.4" y="318.5" width="203.10" height="129.50" class="box"/>
<path d="M336.71 422.10 L377.33 446.45 L417.95 447.48 L458.57 447.48 L499.19 447.48" class="ln"/>
<path d="M336.71 419.51 L377.33 445.41 L417.95 446.96 L458.57 447.48 L499.19 447.48" class="ln"/>
<path d="M336.71 377.03 L377.33 407.60 L417.95 436.09 L458.57 441.27 L499.19 447.48" class="ln"/>
<path d="M336.71 421.06 L377.33 446.45 L417.95 447.48 L458.57 447.48 L499.19 447.48" class="ln"/>
<path d="M336.71 330.41 L377.33 424.69 L417.95 446.45 L458.57 447.48 L499.19 447.48" class="ln"/>
<path d="M336.71 444.37 L377.33 446.96 L417.95 447.48 L458.57 447.48 L499.19 447.48" class="ln"/>
<path d="M336.71 372.37 L377.33 443.86 L417.95 435.05 L458.57 446.45 L499.19 447.48" class="ln"/>
<path d="M336.71 415.37 L377.33 445.41 L417.95 446.96 L458.57 447.48 L499.19 447.48" class="ln"/>
<path d="M336.71 441.01 L377.33 444.89 L417.95 446.96 L458.57 447.48 L499.19 447.48" class="ln"/>
<path d="M336.71 412.47L339.60999999999996 417.69L333.81 417.69Z" fill="#fff" stroke="#000" stroke-width="1.2"/>
<path d="M377.33 442.51000000000005L380.22999999999996 447.73L374.43 447.73Z" fill="#fff" stroke="#000" stroke-width="1.2"/>
<path d="M417.95 444.06L420.84999999999997 449.28L415.05 449.28Z" fill="#fff" stroke="#000" stroke-width="1.2"/>
<path d="M458.57 444.58000000000004L461.46999999999997 449.8L455.67 449.8Z" fill="#fff" stroke="#000" stroke-width="1.2"/>
<path d="M499.19 444.58000000000004L502.09 449.8L496.29 449.8Z" fill="#fff" stroke="#000" stroke-width="1.2"/>
<rect x="334.40999999999997" y="438.71" width="4.6" height="4.6" fill="#fff" stroke="#000" stroke-width="1.3"/>
<rect x="375.03" y="442.59" width="4.6" height="4.6" fill="#fff" stroke="#000" stroke-width="1.3"/>
<rect x="415.65" y="444.65999999999997" width="4.6" height="4.6" fill="#fff" stroke="#000" stroke-width="1.3"/>
<rect x="456.27" y="445.18" width="4.6" height="4.6" fill="#fff" stroke="#000" stroke-width="1.3"/>
<rect x="496.89" y="445.18" width="4.6" height="4.6" fill="#fff" stroke="#000" stroke-width="1.3"/>
<path d="M336.71 418.8L340.01 422.1L336.71 425.40000000000003L333.40999999999997 422.1Z" fill="#000"/>
<path d="M377.33 443.15L380.63 446.45L377.33 449.75L374.03 446.45Z" fill="#000"/>
<path d="M417.95 444.18L421.25 447.48L417.95 450.78000000000003L414.65 447.48Z" fill="#000"/>
<path d="M458.57 444.18L461.87 447.48L458.57 450.78000000000003L455.27 447.48Z" fill="#000"/>
<path d="M499.19 444.18L502.49 447.48L499.19 450.78000000000003L495.89 447.48Z" fill="#000"/>
<rect x="334.10999999999996" y="416.90999999999997" width="5.2" height="5.2" fill="#000"/>
<rect x="374.72999999999996" y="442.81" width="5.2" height="5.2" fill="#000"/>
<rect x="415.34999999999997" y="444.35999999999996" width="5.2" height="5.2" fill="#000"/>
<rect x="455.96999999999997" y="444.88" width="5.2" height="5.2" fill="#000"/>
<rect x="496.59" y="444.88" width="5.2" height="5.2" fill="#000"/>
<path d="M336.71 374.085L339.81 379.66499999999996L333.60999999999996 379.66499999999996Z" fill="#000"/>
<path d="M377.33 404.65500000000003L380.43 410.235L374.22999999999996 410.235Z" fill="#000"/>
<path d="M417.95 433.145L421.05 438.72499999999997L414.84999999999997 438.72499999999997Z" fill="#000"/>
<path d="M458.57 438.325L461.67 443.905L455.46999999999997 443.905Z" fill="#000"/>
<path d="M499.19 444.535L502.29 450.115L496.09 450.115Z" fill="#000"/>
<path d="M334.31 418.66L339.10999999999996 423.46M339.10999999999996 418.66L334.31 423.46" stroke="#000" stroke-width="1.3" fill="none"/>
<path d="M374.93 444.05L379.72999999999996 448.84999999999997M379.72999999999996 444.05L374.93 448.84999999999997" stroke="#000" stroke-width="1.3" fill="none"/>
<path d="M415.55 445.08000000000004L420.34999999999997 449.88M420.34999999999997 445.08000000000004L415.55 449.88" stroke="#000" stroke-width="1.3" fill="none"/>
<path d="M456.17 445.08000000000004L460.96999999999997 449.88M460.96999999999997 445.08000000000004L456.17 449.88" stroke="#000" stroke-width="1.3" fill="none"/>
<path d="M496.79 445.08000000000004L501.59 449.88M501.59 445.08000000000004L496.79 449.88" stroke="#000" stroke-width="1.3" fill="none"/>
<path d="M334.10999999999996 327.81L339.31 333.01000000000005M339.31 327.81L334.10999999999996 333.01000000000005M336.71 327.41L336.71 333.41" stroke="#000" stroke-width="1.4" fill="none"/>
<path d="M374.72999999999996 422.09L379.93 427.29M379.93 422.09L374.72999999999996 427.29M377.33 421.69L377.33 427.69" stroke="#000" stroke-width="1.4" fill="none"/>
<path d="M415.34999999999997 443.84999999999997L420.55 449.05M420.55 443.84999999999997L415.34999999999997 449.05M417.95 443.45L417.95 449.45" stroke="#000" stroke-width="1.4" fill="none"/>
<path d="M455.96999999999997 444.88L461.17 450.08000000000004M461.17 444.88L455.96999999999997 450.08000000000004M458.57 444.48L458.57 450.48" stroke="#000" stroke-width="1.4" fill="none"/>
<path d="M496.59 444.88L501.79 450.08000000000004M501.79 444.88L496.59 450.08000000000004M499.19 444.48L499.19 450.48" stroke="#000" stroke-width="1.4" fill="none"/>
<circle cx="336.71" cy="444.37" r="2.9" fill="#000"/>
<circle cx="377.33" cy="446.96" r="2.9" fill="#000"/>
<circle cx="417.95" cy="447.48" r="2.9" fill="#000"/>
<circle cx="458.57" cy="447.48" r="2.9" fill="#000"/>
<circle cx="499.19" cy="447.48" r="2.9" fill="#000"/>
<path d="M333.71 372.37L339.71 372.37M336.71 369.37L336.71 375.37" stroke="#000" stroke-width="1.4" fill="none"/>
<path d="M374.33 443.86L380.33 443.86M377.33 440.86L377.33 446.86" stroke="#000" stroke-width="1.4" fill="none"/>
<path d="M414.95 435.05L420.95 435.05M417.95 432.05L417.95 438.05" stroke="#000" stroke-width="1.4" fill="none"/>
<path d="M455.57 446.45L461.57 446.45M458.57 443.45L458.57 449.45" stroke="#000" stroke-width="1.4" fill="none"/>
<path d="M496.19 447.48L502.19 447.48M499.19 444.48L499.19 450.48" stroke="#000" stroke-width="1.4" fill="none"/>
<text x="271.3" y="488.5" class="let">H</text>
<text transform="translate(291.8 546) rotate(-90)" class="tit" text-anchor="middle">EPO</text>
<text x="311.3" y="609.80" class="yt" text-anchor="end">0</text>
<text x="311.3" y="593.89" class="yt" text-anchor="end">10</text>
<path d="M316.0 591.34H318.5" class="ax"/>
<text x="311.3" y="577.97" class="yt" text-anchor="end">20</text>
<path d="M316.0 575.08H318.5" class="ax"/>
<text x="311.3" y="562.06" class="yt" text-anchor="end">30</text>
<path d="M316.0 558.81H318.5" class="ax"/>
<text x="311.3" y="546.15" class="yt" text-anchor="end">40</text>
<path d="M316.0 542.55H318.5" class="ax"/>
<text x="311.3" y="530.24" class="yt" text-anchor="end">50</text>
<path d="M316.0 526.29H318.5" class="ax"/>
<text x="311.3" y="514.32" class="yt" text-anchor="end">60</text>
<path d="M316.0 510.02H318.5" class="ax"/>
<text x="311.3" y="498.41" class="yt" text-anchor="end">70</text>
<path d="M316.0 493.76H318.5" class="ax"/>
<text x="311.3" y="482.50" class="yt" text-anchor="end">80</text>
<text x="337.65" y="620.10" class="xt" text-anchor="middle">0</text>
<text x="378.35" y="620.10" class="xt" text-anchor="middle">1.5</text>
<text x="419.05" y="620.10" class="xt" text-anchor="middle">3</text>
<text x="459.75" y="620.10" class="xt" text-anchor="middle">6</text>
<text x="500.45" y="620.10" class="xt" text-anchor="middle">12</text>
<rect x="316.0" y="477.5" width="203.50" height="130.10" class="box"/>
<path d="M336.35 553.45 L377.05 558.16 L417.75 579.95 L458.45 594.59 L499.15 588.09" class="ln"/>
<path d="M336.35 575.24 L377.05 585.16 L417.75 583.21 L458.45 599.47 L499.15 600.61" class="ln"/>
<path d="M336.35 577.84 L377.05 597.84 L417.75 598.66 L458.45 601.75 L499.15 602.23" class="ln"/>
<path d="M336.35 535.56 L377.05 544.66 L417.75 562.88 L458.45 589.22 L499.15 594.59" class="ln"/>
<path d="M336.35 498.48 L377.05 573.61 L417.75 579.95 L458.45 593.78 L499.15 599.47" class="ln"/>
<path d="M336.35 588.09 L377.05 573.61 L417.75 575.56 L458.45 589.22 L499.15 583.53" class="ln"/>
<path d="M336.35 593.13 L377.05 576.70 L417.75 581.58 L458.45 599.47 L499.15 602.23" class="ln"/>
<path d="M336.35 577.84 L377.05 593.13 L417.75 593.78 L458.45 601.75 L499.15 602.23" class="ln"/>
<path d="M336.35 529.87 L377.05 568.73 L417.75 584.67 L458.45 582.23 L499.15 588.57" class="ln"/>
<path d="M336.35 574.94L339.25 580.1600000000001L333.45000000000005 580.1600000000001Z" fill="#fff" stroke="#000" stroke-width="1.2"/>
<path d="M377.05 590.23L379.95 595.45L374.15000000000003 595.45Z" fill="#fff" stroke="#000" stroke-width="1.2"/>
<path d="M417.75 590.88L420.65 596.1L414.85 596.1Z" fill="#fff" stroke="#000" stroke-width="1.2"/>
<path d="M458.45 598.85L461.34999999999997 604.07L455.55 604.07Z" fill="#fff" stroke="#000" stroke-width="1.2"/>
<path d="M499.15 599.33L502.04999999999995 604.5500000000001L496.25 604.5500000000001Z" fill="#fff" stroke="#000" stroke-width="1.2"/>
<rect x="334.05" y="527.57" width="4.6" height="4.6" fill="#fff" stroke="#000" stroke-width="1.3"/>
<rect x="374.75" y="566.4300000000001" width="4.6" height="4.6" fill="#fff" stroke="#000" stroke-width="1.3"/>
<rect x="415.45" y="582.37" width="4.6" height="4.6" fill="#fff" stroke="#000" stroke-width="1.3"/>
<rect x="456.15" y="579.9300000000001" width="4.6" height="4.6" fill="#fff" stroke="#000" stroke-width="1.3"/>
<rect x="496.84999999999997" y="586.2700000000001" width="4.6" height="4.6" fill="#fff" stroke="#000" stroke-width="1.3"/>
<path d="M336.35 550.1500000000001L339.65000000000003 553.45L336.35 556.75L333.05 553.45Z" fill="#000"/>
<path d="M377.05 554.86L380.35 558.16L377.05 561.4599999999999L373.75 558.16Z" fill="#000"/>
<path d="M417.75 576.6500000000001L421.05 579.95L417.75 583.25L414.45 579.95Z" fill="#000"/>
<path d="M458.45 591.2900000000001L461.75 594.59L458.45 597.89L455.15 594.59Z" fill="#000"/>
<path d="M499.15 584.7900000000001L502.45 588.09L499.15 591.39L495.84999999999997 588.09Z" fill="#000"/>
<rect x="333.75" y="572.64" width="5.2" height="5.2" fill="#000"/>
<rect x="374.45" y="582.56" width="5.2" height="5.2" fill="#000"/>
<rect x="415.15" y="580.61" width="5.2" height="5.2" fill="#000"/>
<rect x="455.84999999999997" y="596.87" width="5.2" height="5.2" fill="#000"/>
<rect x="496.54999999999995" y="598.01" width="5.2" height="5.2" fill="#000"/>
<path d="M336.35 574.895L339.45000000000005 580.475L333.25 580.475Z" fill="#000"/>
<path d="M377.05 594.895L380.15000000000003 600.475L373.95 600.475Z" fill="#000"/>
<path d="M417.75 595.7149999999999L420.85 601.295L414.65 601.295Z" fill="#000"/>
<path d="M458.45 598.805L461.55 604.385L455.34999999999997 604.385Z" fill="#000"/>
<path d="M499.15 599.285L502.25 604.865L496.04999999999995 604.865Z" fill="#000"/>
<path d="M333.95000000000005 533.16L338.75 537.9599999999999M338.75 533.16L333.95000000000005 537.9599999999999" stroke="#000" stroke-width="1.3" fill="none"/>
<path d="M374.65000000000003 542.26L379.45 547.06M379.45 542.26L374.65000000000003 547.06" stroke="#000" stroke-width="1.3" fill="none"/>
<path d="M415.35 560.48L420.15 565.28M420.15 560.48L415.35 565.28" stroke="#000" stroke-width="1.3" fill="none"/>
<path d="M456.05 586.82L460.84999999999997 591.62M460.84999999999997 586.82L456.05 591.62" stroke="#000" stroke-width="1.3" fill="none"/>
<path d="M496.75 592.19L501.54999999999995 596.99M501.54999999999995 592.19L496.75 596.99" stroke="#000" stroke-width="1.3" fill="none"/>
<path d="M333.75 495.88L338.95000000000005 501.08000000000004M338.95000000000005 495.88L333.75 501.08000000000004M336.35 495.48L336.35 501.48" stroke="#000" stroke-width="1.4" fill="none"/>
<path d="M374.45 571.01L379.65000000000003 576.21M379.65000000000003 571.01L374.45 576.21M377.05 570.61L377.05 576.61" stroke="#000" stroke-width="1.4" fill="none"/>
<path d="M415.15 577.35L420.35 582.5500000000001M420.35 577.35L415.15 582.5500000000001M417.75 576.95L417.75 582.95" stroke="#000" stroke-width="1.4" fill="none"/>
<path d="M455.84999999999997 591.18L461.05 596.38M461.05 591.18L455.84999999999997 596.38M458.45 590.78L458.45 596.78" stroke="#000" stroke-width="1.4" fill="none"/>
<path d="M496.54999999999995 596.87L501.75 602.07M501.75 596.87L496.54999999999995 602.07M499.15 596.47L499.15 602.47" stroke="#000" stroke-width="1.4" fill="none"/>
<circle cx="336.35" cy="588.09" r="2.9" fill="#000"/>
<circle cx="377.05" cy="573.61" r="2.9" fill="#000"/>
<circle cx="417.75" cy="575.56" r="2.9" fill="#000"/>
<circle cx="458.45" cy="589.22" r="2.9" fill="#000"/>
<circle cx="499.15" cy="583.53" r="2.9" fill="#000"/>
<path d="M333.35 593.13L339.35 593.13M336.35 590.13L336.35 596.13" stroke="#000" stroke-width="1.4" fill="none"/>
<path d="M374.05 576.7L380.05 576.7M377.05 573.7L377.05 579.7" stroke="#000" stroke-width="1.4" fill="none"/>
<path d="M414.75 581.58L420.75 581.58M417.75 578.58L417.75 584.58" stroke="#000" stroke-width="1.4" fill="none"/>
<path d="M455.45 599.47L461.45 599.47M458.45 596.47L458.45 602.47" stroke="#000" stroke-width="1.4" fill="none"/>
<path d="M496.15 602.23L502.15 602.23M499.15 599.23L499.15 605.23" stroke="#000" stroke-width="1.4" fill="none"/>
<text x="37.3" y="639.8" class="mt">Months of tocilizumab administration</text>
<text x="310.2" y="639.7" class="mt">Months of tocilizumab administration</text>
<path d="M41.9 661.695L44.705 664.5L41.9 667.305L39.095 664.5Z" fill="#000"/>
<text x="47.3" y="668.3" class="lg">Case1</text>
<rect x="94.09" y="662.29" width="4.42" height="4.42" fill="#000"/>
<text x="100.2" y="668.3" class="lg">Case2</text>
<path d="M150.5 661.99675L153.135 666.73975L147.865 666.73975Z" fill="#000"/>
<text x="155" y="668.3" class="lg">Case3</text>
<path d="M205.46 662.46L209.54 666.54M209.54 662.46L205.46 666.54" stroke="#000" stroke-width="1.3" fill="none"/>
<text x="212.5" y="668.3" class="lg">Case4</text>
<path d="M264.0 662.3L268.4 666.7M268.4 662.3L264.0 666.7" stroke="#000" stroke-width="1.7" fill="none"/>
<text x="273.7" y="668.3" class="lg">Case5</text>
<circle cx="318.7" cy="664.5" r="2.465" fill="#000"/>
<text x="325" y="668.3" class="lg">Case6</text>
<path d="M370.95 664.5L376.05 664.5M373.5 661.95L373.5 667.05" stroke="#000" stroke-width="1.4" fill="none"/>
<text x="381" y="668.3" class="lg">Case7</text>
<path d="M426.5 662.035L428.965 666.472L424.035 666.472Z" fill="#fff" stroke="#000" stroke-width="1.2"/>
<text x="431.4" y="668.3" class="lg">Case8</text>
<rect x="477.545" y="662.545" width="3.9099999999999997" height="3.9099999999999997" fill="#fff" stroke="#000" stroke-width="1.3"/>
<text x="485.9" y="668.3" class="lg">Case9</text>
</svg></body></html>
